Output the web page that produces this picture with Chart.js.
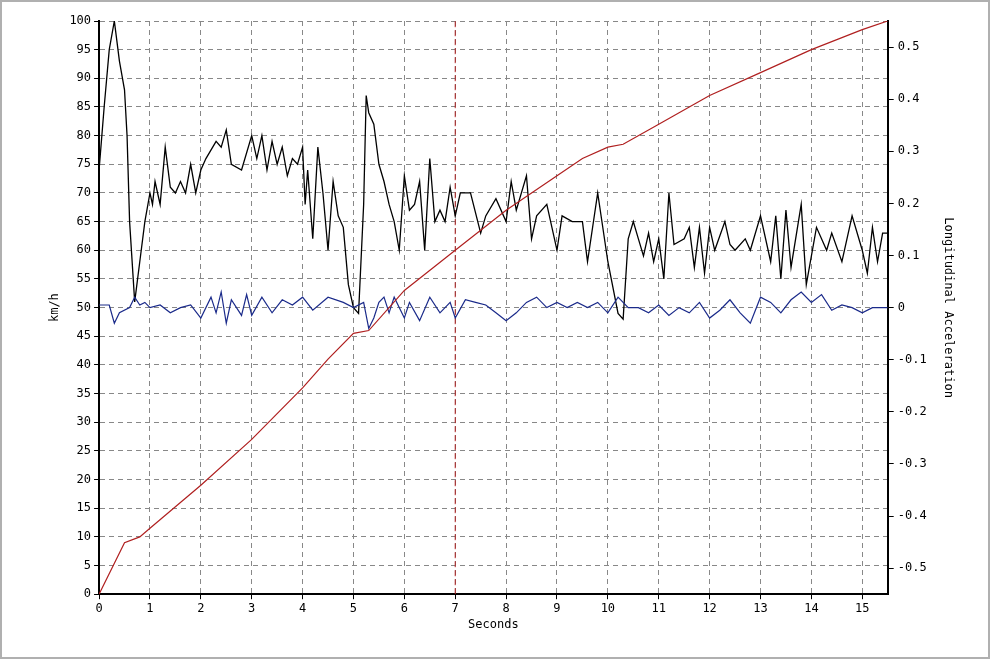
<!DOCTYPE html>
<html>
<head>
<meta charset="utf-8">
<script src="https://cdn.jsdelivr.net/npm/chart.js@4/dist/chart.umd.min.js"></script>
<style>
  html, body { margin: 0; padding: 0; background: #fff; }
  #wrap { width: 986px; height: 655px; border: 2px solid #b0b0b0; position: relative; }
</style>
</head>
<body>
<div id="wrap"><canvas id="speed-chart"></canvas></div>
<script>
// speed in km/h (red)
const speedTimes = [0, 0.5, 0.8, 1, 2, 3, 4, 4.5, 5, 5.3, 6, 7, 8, 9, 9.5, 10, 10.3, 11, 12, 13, 14, 15, 15.5];
const speedValues = [0, 9, 10, 11.5, 19, 27, 36, 41, 45.5, 46, 53, 60, 67, 73, 76, 78, 78.5, 82, 87, 91, 95, 98.5, 100];

// black trace, left axis
const blackTimes = [0, 0.1, 0.2, 0.3, 0.4, 0.5, 0.55, 0.6, 0.7, 0.8, 0.9, 1.0, 1.05, 1.1, 1.2, 1.3, 1.4, 1.5, 1.6, 1.7, 1.8, 1.9, 2.0, 2.1, 2.3, 2.4, 2.5, 2.6, 2.8, 3.0, 3.1, 3.2, 3.3, 3.4, 3.5, 3.6, 3.7, 3.8, 3.9, 4.0, 4.05, 4.1, 4.2, 4.3, 4.4, 4.5, 4.6, 4.7, 4.8, 4.9, 5.0, 5.1, 5.2, 5.25, 5.3, 5.4, 5.5, 5.6, 5.7, 5.8, 5.9, 6.0, 6.1, 6.2, 6.3, 6.4, 6.5, 6.6, 6.7, 6.8, 6.9, 7.0, 7.1, 7.3, 7.5, 7.6, 7.8, 8.0, 8.1, 8.2, 8.4, 8.5, 8.6, 8.8, 9.0, 9.1, 9.3, 9.5, 9.6, 9.8, 10.0, 10.2, 10.3, 10.4, 10.5, 10.6, 10.7, 10.8, 10.9, 11.0, 11.1, 11.2, 11.3, 11.5, 11.6, 11.7, 11.8, 11.9, 12.0, 12.1, 12.3, 12.4, 12.5, 12.7, 12.8, 13.0, 13.2, 13.3, 13.4, 13.5, 13.6, 13.8, 13.9, 14.1, 14.3, 14.4, 14.6, 14.8, 15.0, 15.1, 15.2, 15.3, 15.4, 15.5];
const blackValues = [74, 85, 95, 100, 93, 88, 80, 65, 51, 58, 65, 70, 68, 72, 68, 78, 71, 70, 72, 70, 75, 70, 74, 76, 79, 78, 81, 75, 74, 80, 76, 80, 74, 79, 75, 78, 73, 76, 75, 78, 68, 74, 62, 78, 70, 60, 72, 66, 64, 54, 50, 49, 68, 87, 84, 82, 75, 72, 68, 65, 60, 73, 67, 68, 72, 60, 76, 65, 67, 65, 71, 66, 70, 70, 63, 66, 69, 65, 72, 67, 73, 62, 66, 68, 60, 66, 65, 65, 58, 70, 58, 49, 48, 62, 65, 62, 59, 63, 58, 62, 55, 70, 61, 62, 64, 57, 64, 56, 64, 60, 65, 61, 60, 62, 60, 66, 58, 66, 55, 67, 57, 68, 54, 64, 60, 63, 58, 66, 60, 56, 64, 58, 63, 63];

// longitudinal acceleration (blue), right axis
const accTimes = [0, 0.2, 0.3, 0.4, 0.6, 0.7, 0.8, 0.9, 1.0, 1.2, 1.4, 1.6, 1.8, 2.0, 2.2, 2.3, 2.4, 2.5, 2.6, 2.8, 2.9, 3.0, 3.2, 3.4, 3.6, 3.8, 4.0, 4.2, 4.5, 4.8, 5.0, 5.2, 5.3, 5.4, 5.5, 5.6, 5.7, 5.8, 6.0, 6.1, 6.3, 6.5, 6.7, 6.9, 7.0, 7.2, 7.4, 7.6, 7.8, 8.0, 8.2, 8.4, 8.6, 8.8, 9.0, 9.2, 9.4, 9.6, 9.8, 10.0, 10.2, 10.4, 10.6, 10.8, 11.0, 11.2, 11.4, 11.6, 11.8, 12.0, 12.2, 12.4, 12.6, 12.8, 13.0, 13.2, 13.4, 13.6, 13.8, 14.0, 14.2, 14.4, 14.6, 14.8, 15.0, 15.2, 15.5];
const accValues = [0.005, 0.005, -0.03, -0.01, 0, 0.02, 0.005, 0.01, 0, 0.005, -0.01, 0, 0.005, -0.02, 0.02, -0.01, 0.03, -0.03, 0.015, -0.015, 0.025, -0.015, 0.02, -0.01, 0.015, 0.005, 0.02, -0.005, 0.02, 0.01, 0, 0.01, -0.04, -0.02, 0.01, 0.02, -0.01, 0.02, -0.02, 0.01, -0.025, 0.02, -0.01, 0.01, -0.02, 0.015, 0.01, 0.005, -0.01, -0.025, -0.01, 0.01, 0.02, 0, 0.01, 0, 0.01, 0, 0.01, -0.01, 0.02, 0, 0, -0.01, 0.005, -0.015, 0, -0.01, 0.01, -0.02, -0.005, 0.015, -0.01, -0.03, 0.02, 0.01, -0.01, 0.015, 0.03, 0.01, 0.025, -0.005, 0.005, 0, -0.01, 0, 0];

const markerTime = 7;
const xTicks = [0, 1, 2, 3, 4, 5, 6, 7, 8, 9, 10, 11, 12, 13, 14, 15];
const accTicks = [-0.5, -0.4, -0.3, -0.2, -0.1, 0, 0.1, 0.2, 0.3, 0.4, 0.5];

const zip = (xs, ys) => xs.map((x, i) => ({x: x, y: ys[i]}));
const font = {family: "'DejaVu Sans Mono', monospace", size: 12};
const grid = {color: '#888', lineWidth: 1, tickLength: 5, tickColor: '#000'};

Chart.defaults.color = '#000';
Chart.defaults.font = font;

new Chart(document.getElementById('speed-chart'), {
    type: 'line',
    data: {
        datasets: [
            {data: zip(speedTimes, speedValues), borderColor: '#b02020', borderWidth: 1.2, yAxisID: 'y', pointRadius: 0},
            {data: zip(accTimes, accValues), borderColor: '#1a2a8a', borderWidth: 1.2, yAxisID: 'y1', pointRadius: 0},
            {data: zip(blackTimes, blackValues), borderColor: '#000', borderWidth: 1.3, yAxisID: 'y', pointRadius: 0},
            {data: [{x: markerTime, y: 0}, {x: markerTime, y: 100}], borderColor: '#b02020', borderWidth: 1, borderDash: [6, 3], yAxisID: 'y', pointRadius: 0}
        ]
    },
    options: {
        responsive: true,
        maintainAspectRatio: false,
        animation: false,
        layout: {padding: {top: 19, left: 42, right: 23, bottom: 25}},
        plugins: {legend: {display: false}, tooltip: {enabled: false}},
        scales: {
            x: {
                type: 'linear', min: 0, max: 15.5,
                afterBuildTicks: s => { s.ticks = xTicks.map(v => ({value: v})); },
                grid: grid, border: {color: '#000', width: 2, dash: [5, 4]},
                ticks: {font: font, maxRotation: 0, padding: 2},
                title: {display: true, text: 'Seconds', font: font, padding: 0}
            },
            y: {
                min: 0, max: 100,
                ticks: {stepSize: 5, font: font, padding: 3},
                grid: grid, border: {color: '#000', width: 2, dash: [5, 4]},
                title: {display: true, text: 'km/h', font: font}
            },
            y1: {
                position: 'right', min: -0.55, max: 0.55,
                afterBuildTicks: s => { s.ticks = accTicks.map(v => ({value: v})); },
                ticks: {font: font, padding: 4, callback: v => String(Math.round(v * 10) / 10)},
                grid: {drawOnChartArea: false, tickLength: 6, tickColor: '#000'},
                border: {color: '#000', width: 2},
                title: {display: true, text: 'Longitudinal Acceleration', font: font, padding: 10}
            }
        }
    }
});
</script>
</body>
</html>
